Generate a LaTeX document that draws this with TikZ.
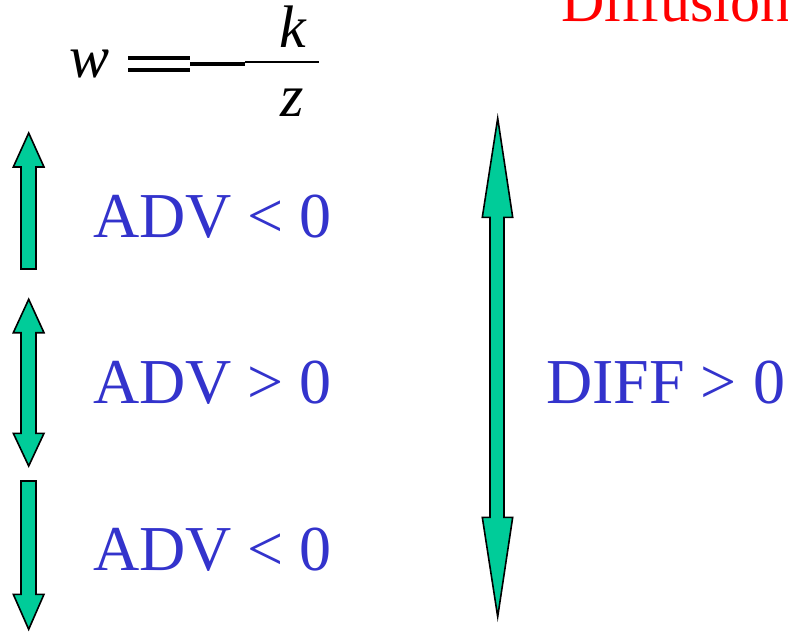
\documentclass[tikz,border=0pt]{standalone}
\usepackage{fontspec}
\setmainfont{Liberation Serif}
\definecolor{arrowgreen}{RGB}{0,204,153}
\definecolor{advblue}{RGB}{51,51,204}
\definecolor{titlered}{RGB}{255,0,0}
\tikzset{
	blockarrow/.style={fill=arrowgreen, draw=black, line width=1.2pt, line join=miter},
	sign/.style={text=advblue, anchor=base west, inner sep=0pt, font=\fontsize{48}{58}\selectfont},
	mathvar/.style={anchor=base west, inner sep=0pt, font=\fontsize{45}{54}\selectfont\itshape},
}
\begin{document}
\begin{tikzpicture}[x=0.75pt, y=-0.75pt]
	\useasboundingbox (0,0) rectangle (788,632);
	\clip (0,0) rectangle (788,632);
	% formula w = k/z
	\node[mathvar] (w) at (69,77) {w};
	\draw[line width=2.8pt] (128,58) -- (190,58);
	\draw[line width=2.8pt] (128,70) -- (190,70);
	\draw[line width=3pt] (190,63.5) -- (245,63.5);
	\draw[line width=2.2pt] (245,62) -- (319,62);
	\node[mathvar] (k) at (279,47) {k};
	\node[mathvar] (z) at (280,116) {z};
	% title (cut off)
	\node[text=titlered, anchor=base west, inner sep=0pt, font=\fontsize{45}{54}\selectfont] (diff) at (561,21) {Diffusion};
	% small arrows
	\draw[blockarrow] (28.7,133) -- (44,167) -- (36,167) -- (36,269) -- (21,269) -- (21,167) -- (13.3,167) -- cycle;
	\draw[blockarrow] (28.7,299.3) -- (44,332.7) -- (36,332.7) -- (36,433.3) -- (44,433.3) -- (28.7,466)
		-- (13.3,433.3) -- (21,433.3) -- (21,332.7) -- (13.3,332.7) -- cycle;
	\draw[blockarrow] (21,481) -- (36,481) -- (36,594.3) -- (44,594.3) -- (28.7,629.3) -- (13.3,594.3) -- (21,594.3) -- cycle;
	% big arrow
	\draw[blockarrow] (497.7,118.3) -- (512.7,217.3) -- (504,217.3) -- (504,517.3) -- (512.7,517.3) -- (497.7,616.7)
		-- (482.3,517.3) -- (490,517.3) -- (490,217.3) -- (482.3,217.3) -- cycle;
	% labels
	\node[sign] (adv1) at (93,237) {ADV < 0};
	\node[sign] (adv2) at (93,403) {ADV > 0};
	\node[sign] (adv3) at (93,570) {ADV < 0};
	\node[sign] (diffpos) at (546,403) {DIFF > 0};
\end{tikzpicture}
\end{document}
